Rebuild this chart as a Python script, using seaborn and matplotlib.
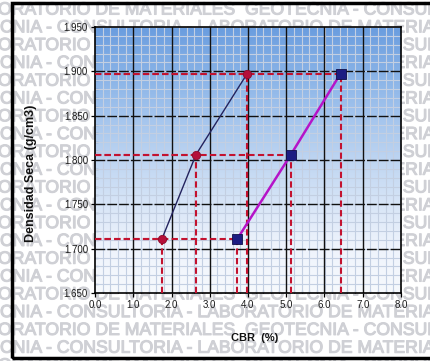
import numpy as np
import pandas as pd
import matplotlib
matplotlib.use("Agg")
import matplotlib.pyplot as plt
import matplotlib.patheffects as pe
from matplotlib.colors import LinearSegmentedColormap
from matplotlib.patches import Rectangle
import seaborn as sns

# ---- data ----
densidad = [1.711, 1.806, 1.8975]
cbr_serie1 = [1.75, 2.64, 3.98]
cbr_serie2 = [3.72, 5.12, 6.42]
x_ticks = [0.0, 1.0, 2.0, 3.0, 4.0, 5.0, 6.0, 7.0, 8.0]
y_ticks = [1.650, 1.700, 1.750, 1.800, 1.850, 1.900, 1.950]
x_label = "CBR  (%)"
y_label = "Densidad Seca (g/cm3)"
wm_row_a = "ORATORIO DE MATERIALES  GEOTECNIA - CONSULTORIA"
wm_row_b = "CNIA - CONSULTORIA - LABORATORIO DE MATERIALES"

sns.set_theme(style="white")
plt.rcParams['font.family'] = ['Liberation Sans', 'DejaVu Sans']

W, H = 430, 361
fig = plt.figure(figsize=(W / 100, H / 100), dpi=100)
fig.patch.set_facecolor("white")

# watermark rows (behind the axes)
wm_color = "#cfd0d5"
for i in range(21):
    ypx = 10 + 17.8 * i
    if i % 2 == 0:
        txt, xpx = wm_row_a, -2
    else:
        txt, xpx = wm_row_b, 0
    fig.text(xpx / W, 1 - ypx / H, txt, fontsize=12.7, fontweight="normal",
             color=wm_color, ha="left", va="center", zorder=-10,
             path_effects=[pe.withStroke(linewidth=0.8, foreground=wm_color)])

# outer frame
fig.patches.append(Rectangle((12 / W, 3 / H), (W - 12) / W + 0.05, (358 - 3) / H,
                             transform=fig.transFigure, fill=False,
                             edgecolor="black", linewidth=2.5, zorder=5))

left, right, bottom, top = 95 / W, 401 / W, 1 - 293 / H, 1 - 27 / H
ax = fig.add_axes([left, bottom, right - left, top - bottom])

xmin, xmax, ymin, ymax = 0.0, 8.0, 1.650, 1.950
ax.set_xlim(xmin, xmax)
ax.set_ylim(ymin, ymax)

# gradient background
cmap = LinearSegmentedColormap.from_list(
    "bg", [(0.0, "#f6f9fd"), (0.18, "#eef3fc"), (0.45, "#c6daf3"),
           (0.75, "#95bbea"), (1.0, "#6a9ddf")])
grad = np.linspace(0, 1, 256).reshape(-1, 1)
ax.imshow(grad, aspect="auto", cmap=cmap, origin="lower",
          extent=[xmin, xmax, ymin, ymax], zorder=0, interpolation="bicubic")

# minor grid
for xv in np.arange(0.2, 8.0, 0.2):
    ax.axvline(xv, color="#c3cfe2", lw=0.8, zorder=1)
for yv in np.arange(1.66, 1.95, 0.01):
    ax.axhline(yv, color="#c3cfe2", lw=0.8, zorder=1)
# major grid
for xv in x_ticks[1:-1]:
    ax.axvline(xv, color="#111111", lw=1.0, zorder=2)
for yv in y_ticks[1:-1]:
    ax.axhline(yv, color="#111111", lw=1.0, dashes=(7, 1.5), zorder=2)

red = "#c3122f"
# reference dashed lines
for xs in (cbr_serie1, cbr_serie2):
    for xv, yv in zip(xs, densidad):
        ax.plot([xmin, xv], [yv, yv], color=red, lw=1.5, dashes=(3, 1.6), zorder=3)
        ax.plot([xv, xv], [ymin, yv], color=red, lw=1.5, dashes=(3, 1.6), zorder=3)

df1 = pd.DataFrame({"cbr": cbr_serie1, "dens": densidad})
df2 = pd.DataFrame({"cbr": cbr_serie2, "dens": densidad})
sns.lineplot(data=df1, x="cbr", y="dens", ax=ax, sort=False, color="#23235e",
             lw=1.0, marker="o", markersize=6, markerfacecolor="#b5103a",
             markeredgecolor="#8a0c2c", markeredgewidth=0.6, zorder=4)
sns.lineplot(data=df2, x="cbr", y="dens", ax=ax, sort=False, color="#b514c8",
             lw=1.8, marker="s", markersize=6.5, markerfacecolor="#1c1c82",
             markeredgecolor="#10104a", markeredgewidth=0.6, zorder=4)

ax.set_xticks(x_ticks)
ax.set_yticks(y_ticks)
ax.set_xticklabels([f"{v:.1f}" for v in x_ticks])
ax.set_yticklabels([f"{v:.3f}" for v in y_ticks])
ax.set_xticks(np.arange(0, 8.0001, 0.2), minor=True)
ax.set_yticks(np.arange(1.65, 1.95001, 0.01), minor=True)
ax.tick_params(which="major", direction="out", length=3, width=0.9,
               color="black", labelsize=7, labelcolor="#1a1a1a", pad=2,
               left=True, bottom=True)
ax.tick_params(which="minor", direction="in", length=2.5, width=0.8,
               color="black", left=True, bottom=True)

for s in ax.spines.values():
    s.set_color("black")
    s.set_linewidth(1.2)
    s.set_visible(True)

ax.set_xlabel(x_label, fontsize=8, fontweight="bold", color="#111111")
ax.set_ylabel(y_label, fontsize=9, fontweight="bold", color="#111111")
ax.xaxis.set_label_coords(0.523, -0.15)
ax.yaxis.set_label_coords(-0.19, 0.45)

fig.savefig("out.png", dpi=100)
